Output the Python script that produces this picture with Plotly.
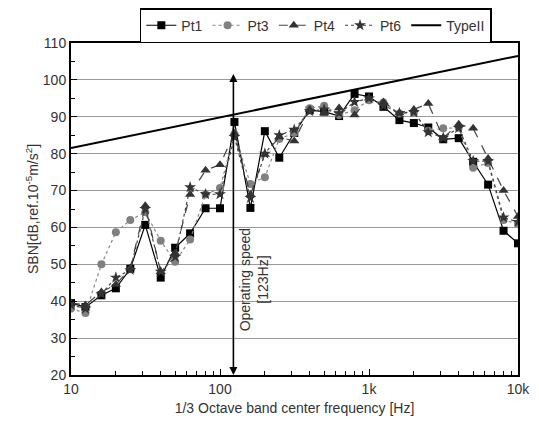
import numpy as np
import plotly.graph_objects as go

freqs = [10, 12.5, 16, 20, 25, 31.5, 40, 50, 63, 80, 100, 125, 160, 200, 250, 315, 400, 500, 630,
         800, 1000, 1250, 1600, 2000, 2500, 3150, 4000, 5000, 6300, 8000, 10000]

pt1 = [39.5, 38.4, 41.6, 43.5, 48.8, 60.7, 46.4, 54.5, 58.4, 65.2, 65.2, 88.6, 65.3, 86.1, 78.9, 85.6,
       91.8, 91.4, 90.2, 96.2, 95.5, 92.7, 89.1, 88.3, 87.1, 83.9, 84.2, 77.8, 71.6, 59.1, 55.7]
pt3 = [38.0, 36.8, 50.0, 58.7, 62.0, 64.1, 56.4, 50.7, 56.7, 68.9, 70.7, 85.3, 71.8, 73.6, 84.0, 85.6,
       92.3, 93.0, 90.5, 91.8, 94.5, 93.9, 90.9, 91.0, 86.2, 86.9, 87.0, 76.2, 77.5, 62.0, 61.0]
pt4 = [39.5, 39.0, 42.5, 44.5, 49.0, 65.9, 48.0, 53.0, 68.9, 75.5, 77.0, 85.5, 68.9, 79.8, 84.5, 83.4,
       92.0, 91.0, 92.4, 90.5, 95.0, 94.0, 91.0, 92.0, 93.6, 84.3, 88.0, 86.9, 78.7, 70.0, 63.0]
pt6 = [39.0, 38.0, 42.0, 46.4, 48.5, 65.0, 48.0, 52.0, 70.9, 69.0, 69.0, 84.5, 68.0, 80.0, 85.0, 86.5,
       91.5, 92.0, 91.0, 94.0, 95.0, 93.0, 91.0, 91.3, 85.8, 84.3, 87.0, 78.0, 78.0, 62.7, 61.5]

type2_f = [10, 10000]
type2_v = [81.5, 106.5]

op_speed = 123
arrow_top = 102
y_min, y_max = 20, 110

fig = go.Figure()
fig.add_trace(go.Scatter(x=freqs, y=pt1, name="Pt1", mode="lines+markers",
                         line=dict(color="black", width=1.2, dash="solid"),
                         marker=dict(symbol="square", size=8, color="black")))
fig.add_trace(go.Scatter(x=freqs, y=pt3, name="Pt3", mode="lines+markers",
                         line=dict(color="#888888", width=1.2, dash="dot"),
                         marker=dict(symbol="circle", size=8, color="#808080")))
fig.add_trace(go.Scatter(x=freqs, y=pt4, name="Pt4", mode="lines+markers",
                         line=dict(color="#444444", width=1.2, dash="dash"),
                         marker=dict(symbol="triangle-up", size=9, color="#333333")))
fig.add_trace(go.Scatter(x=freqs, y=pt6, name="Pt6", mode="lines+markers",
                         line=dict(color="#444444", width=1.2, dash="dot"),
                         marker=dict(symbol="star", size=9, color="#333333")))
fig.add_trace(go.Scatter(x=type2_f, y=type2_v, name="TypeII", mode="lines",
                         line=dict(color="black", width=2)))

fig.add_annotation(x=np.log10(op_speed), y=y_min, ax=np.log10(op_speed), ay=arrow_top,
                   xref="x", yref="y", axref="x", ayref="y", text="", showarrow=True,
                   arrowhead=2, arrowside="end+start", arrowsize=1, arrowwidth=1.6,
                   arrowcolor="black")
fig.add_annotation(x=2.225, y=45.8, xref="x", yref="y", text="Operating speed<br>[123Hz]",
                   showarrow=False, textangle=-90,
                   font=dict(size=14, color="#333333", family="Liberation Sans"))

fig.update_xaxes(type="log", range=[1, 4], showgrid=False, showline=True, linecolor="black",
                 linewidth=2, mirror=True, ticks="inside", ticklen=6, tickcolor="black",
                 tickvals=[10, 100, 1000, 10000], ticktext=["10", "100", "1k", "10k"],
                 minor=dict(ticks="inside", ticklen=4, dtick="D1", tickcolor="black", showgrid=False),
                 title=dict(text="1/3 Octave band center frequency [Hz]", standoff=7,
                            font=dict(size=14, color="#333333")),
                 tickfont=dict(size=14, color="#333333"), zeroline=False, automargin=False)
fig.update_yaxes(range=[y_min, y_max], dtick=10, showgrid=True, gridcolor="#999999", gridwidth=1,
                 showline=True, linecolor="black", linewidth=2, mirror=True,
                 ticks="inside", ticklen=6, tickcolor="black",
                 minor=dict(ticks="inside", ticklen=4, dtick=5, tickcolor="black", showgrid=False),
                 title=dict(text="SBN[dB,ref.10<sup>-5</sup>m/s<sup>2</sup>]", standoff=1,
                            font=dict(size=14, color="#333333")),
                 tickfont=dict(size=14, color="#333333"), zeroline=False, automargin=False)

fig.update_layout(width=531, height=418,
                  margin=dict(l=63, r=21, t=35, b=51, autoexpand=False),
                  paper_bgcolor="white", plot_bgcolor="white",
                  font=dict(family="Liberation Sans", color="#333333"),
                  legend=dict(orientation="h", x=0.154, y=1.105, xanchor="left", yanchor="top",
                              bordercolor="black", borderwidth=1.5, bgcolor="white",
                              font=dict(size=14, color="#333333"),
                              itemwidth=30, tracegroupgap=0))

fig.write_html("out.html")
